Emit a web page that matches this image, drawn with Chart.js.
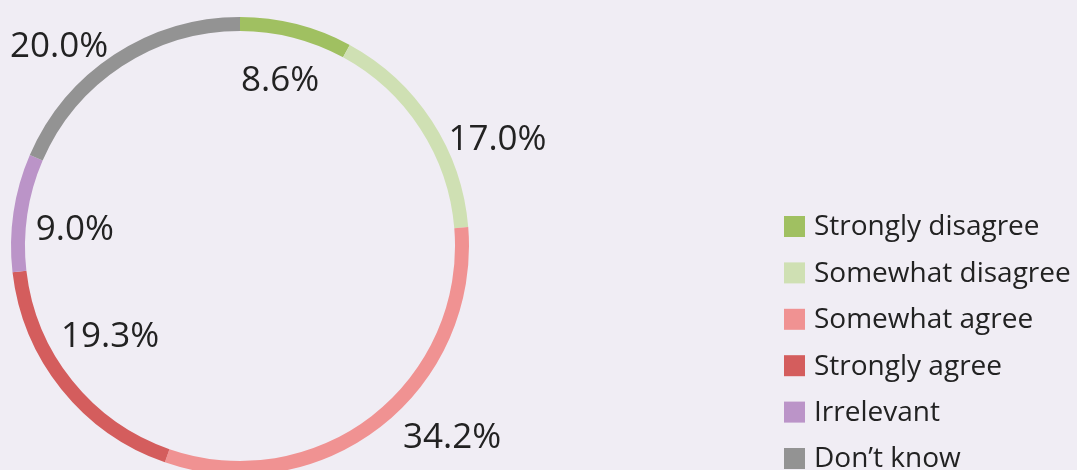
<!DOCTYPE html>
<html>
<head>
<meta charset="utf-8">
<script src="https://cdn.jsdelivr.net/npm/chart.js@4"></script>
<style>
  html, body { margin: 0; padding: 0; background: #f0edf4; }
  #wrap { width: 1077px; height: 470px; position: relative; }
</style>
</head>
<body>
<div id="wrap"><canvas id="myChart"></canvas></div>
<script>
const categories = ["Strongly disagree", "Somewhat disagree", "Somewhat agree", "Strongly agree", "Irrelevant", "Don\u2019t know"];
const shares = [8.6, 17.0, 34.2, 19.3, 9.0, 20.0];
const shareLabels = ["8.6%", "17.0%", "34.2%", "19.3%", "9.0%", "20.0%"];

const colors = ["#a0c061", "#cfe0b3", "#f09292", "#d45d5d", "#bb94c8", "#939393"];

// where each percentage sits: angle shift (deg) from the arc middle, distance as share of the radius
const labelShift = [-0.9, 10.1, -10.4, 4.4, -2.1, -8.6];
const labelDist = [0.753, 1.221, 1.242, 0.687, 0.726, 1.183];

const fontFamily = "'Open Sans', 'Noto Sans', sans-serif";
const textColor = "#222222";

const percentLabels = {
  id: "percentLabels",
  afterDatasetsDraw(chart) {
    const ctx = chart.ctx;
    const arcs = chart.getDatasetMeta(0).data;
    const size = 35;
    ctx.save();
    ctx.font = size + "px " + fontFamily;
    ctx.fillStyle = textColor;
    ctx.textAlign = "center";
    ctx.textBaseline = "alphabetic";
    arcs.forEach((arc, i) => {
      const p = arc.getProps(["x", "y", "startAngle", "endAngle", "outerRadius"], true);
      const a = (p.startAngle + p.endAngle) / 2 + labelShift[i] * Math.PI / 180;
      const d = p.outerRadius * labelDist[i];
      const x = p.x + Math.cos(a) * d;
      const y = p.y + Math.sin(a) * d;
      ctx.fillText(shareLabels[i], x, y + size * 0.36);
    });
    ctx.restore();
  }
};

const sideLegend = {
  id: "sideLegend",
  afterDraw(chart) {
    const ctx = chart.ctx;
    const ds = chart.data.datasets[0];
    const left = 784, top = 216, box = 21, step = 46.4, size = 28;
    ctx.save();
    ctx.font = size + "px " + fontFamily;
    ctx.textBaseline = "middle";
    chart.data.labels.forEach((label, i) => {
      const y = top + i * step;
      ctx.fillStyle = ds.backgroundColor[i];
      ctx.fillRect(left, y, box, box);
      ctx.fillStyle = textColor;
      ctx.fillText(label, left + box + 9, y + box / 2 + 1);
    });
    ctx.restore();
  }
};

const ctx = document.getElementById("myChart").getContext("2d");

const myChart = new Chart(ctx, {
  type: "doughnut",
  data: {
    labels: categories,
    datasets: [{
      data: shares,
      backgroundColor: colors,
      borderWidth: 0,
      radius: 229,
      cutout: "93.9%",
      clip: false
    }]
  },
  options: {
    responsive: true,
    maintainAspectRatio: false,
    animation: false,
    layout: { padding: { left: 11, right: 608, top: 22, bottom: 0 } },
    plugins: {
      legend: { display: false },
      tooltip: { enabled: false }
    }
  },
  plugins: [percentLabels, sideLegend]
});
</script>
</body>
</html>
